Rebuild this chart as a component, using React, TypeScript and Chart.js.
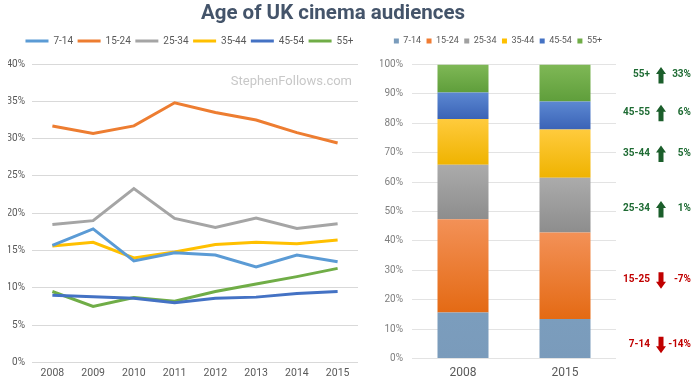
import React, { useEffect, useRef } from 'react';
import { Chart, registerables } from 'chart.js';
Chart.register(...registerables);

// ---------- data ----------
const years = ['2008', '2009', '2010', '2011', '2012', '2013', '2014', '2015'];
const seriesNames = ['7-14', '15-24', '25-34', '35-44', '45-54', '55+'];
const s7to14 = [15.7, 17.9, 13.6, 14.7, 14.4, 12.8, 14.4, 13.5];
const s15to24 = [31.7, 30.7, 31.7, 34.8, 33.5, 32.5, 30.8, 29.4];
const s25to34 = [18.5, 19.0, 23.3, 19.3, 18.1, 19.35, 17.95, 18.6];
const s35to44 = [15.6, 16.1, 14.0, 14.8, 15.8, 16.1, 15.9, 16.4];
const s45to54 = [9.0, 8.8, 8.6, 8.0, 8.6, 8.75, 9.25, 9.5];
const s55plus = [9.5, 7.5, 8.7, 8.2, 9.5, 10.5, 11.5, 12.6];
const allSeries = [s7to14, s15to24, s25to34, s35to44, s45to54, s55plus];

const barYears = ['2008', '2015'];

const annLabels = ['55+', '45-55', '35-44', '25-34', '15-25', '7-14'];
const annChanges = ['33%', '6%', '5%', '1%', '-7%', '-14%'];
const annUp = [true, true, true, true, false, false];
const annLevel = [96.6, 83.8, 69.9, 51.0, 26.8, 4.9];

// ---------- styles ----------
const lineColors = ['#5B9BD5', '#ED7D31', '#A5A5A5', '#FFC000', '#4472C4', '#70AD47'];
const barTop = ['#7B9DBD', '#F39157', '#ABABAB', '#FFCB3D', '#5C88D2', '#7FB856'];
const barBottom = ['#7A9BBB', '#E46A14', '#8D8D8D', '#EFB300', '#3A63B6', '#5F9E3B'];
const barLegend = ['#7A9CBC', '#F07C33', '#A0A0A0', '#FFC000', '#4472C4', '#70AD47'];
const FONT = 'Roboto';

const watermarkPlugin = {
  id: 'watermark',
  afterDatasetsDraw(chart: any) {
    const ctx = chart.ctx;
    ctx.save();
    ctx.font = `13px ${FONT}`;
    ctx.fillStyle = '#C8C8C8';
    ctx.textAlign = 'right';
    ctx.textBaseline = 'middle';
    ctx.fillText('StephenFollows.com', chart.chartArea.right - 6, 82);
    ctx.restore();
  },
};

const annotationPlugin = {
  id: 'changeNotes',
  afterDraw(chart: any) {
    const ctx = chart.ctx;
    const ys = chart.scales.y;
    const right = chart.chartArea.right;
    ctx.save();
    ctx.font = `bold 10px ${FONT}`;
    ctx.textBaseline = 'middle';
    annLabels.forEach((lab, i) => {
      const y = ys.getPixelForValue(annLevel[i]);
      const col = annUp[i] ? '#1E6B33' : '#C00000';
      const arrowCol = annUp[i] ? '#1B5E2B' : '#C00000';
      ctx.fillStyle = col;
      ctx.textAlign = 'right';
      ctx.fillText(lab, right + 34, y);
      ctx.fillText(annChanges[i], right + 75, y);
      const cx = right + 45;
      const top = y - 7.5;
      const bot = y + 9;
      ctx.fillStyle = arrowCol;
      ctx.beginPath();
      if (annUp[i]) {
        ctx.moveTo(cx, top);
        ctx.lineTo(cx + 5, top + 7);
        ctx.lineTo(cx + 2.5, top + 7);
        ctx.lineTo(cx + 2.5, bot);
        ctx.lineTo(cx - 2.5, bot);
        ctx.lineTo(cx - 2.5, top + 7);
        ctx.lineTo(cx - 5, top + 7);
      } else {
        ctx.moveTo(cx, bot);
        ctx.lineTo(cx + 5, bot - 7);
        ctx.lineTo(cx + 2.5, bot - 7);
        ctx.lineTo(cx + 2.5, top);
        ctx.lineTo(cx - 2.5, top);
        ctx.lineTo(cx - 2.5, bot - 7);
        ctx.lineTo(cx - 5, bot - 7);
      }
      ctx.closePath();
      ctx.fill();
    });
    ctx.restore();
  },
};

function barShare(si: number, yi: number) {
  const idx = yi === 0 ? 0 : years.length - 1;
  const total = allSeries.reduce((a, s) => a + s[idx], 0);
  return (allSeries[si][idx] / total) * 100;
}

export default function App() {
  const lineRef = useRef<HTMLCanvasElement>(null);
  const barRef = useRef<HTMLCanvasElement>(null);

  useEffect(() => {
    const lineChart = new Chart(lineRef.current!, {
      type: 'line',
      data: {
        labels: years,
        datasets: seriesNames.map((n, i) => ({
          label: n,
          data: allSeries[i],
          borderColor: lineColors[i],
          backgroundColor: lineColors[i],
          borderWidth: 3,
          pointRadius: 0,
          tension: 0,
        })),
      },
      options: {
        animation: false,
        responsive: false,
        layout: { padding: { top: 31.5, left: 0, right: 2, bottom: 3 } },
        plugins: {
          tooltip: { enabled: false },
          title: { display: true, text: ' ', padding: 0, font: { size: 8, lineHeight: 1 } },
          legend: {
            position: 'top',
            align: 'end',
            weight: 3000,
            labels: {
              boxWidth: 23,
              boxHeight: 3,
              padding: 4.5,
              color: '#595959',
              font: { family: FONT, size: 10 },
              generateLabels: (chart: any) =>
                chart.data.datasets.map((d: any, i: number) => ({
                  text: d.label,
                  fillStyle: lineColors[i],
                  strokeStyle: lineColors[i],
                  lineWidth: 0,
                  datasetIndex: i,
                  hidden: false,
                  fontColor: '#595959',
                })),
            },
          },
        },
        scales: {
          x: {
            offset: true,
            grid: { display: false, drawTicks: false },
            border: { display: false },
            ticks: { color: '#595959', font: { family: FONT, size: 10.5 }, padding: 5 },
          },
          y: {
            min: 0,
            max: 40,
            afterFit: (s: any) => { s.width = 24; },
            grid: { color: '#D9D9D9', drawTicks: false },
            border: { display: false },
            ticks: {
              stepSize: 5,
              padding: 7,
              color: '#595959',
              font: { family: FONT, size: 10 },
              callback: (v: any) => v + '%',
            },
          },
        },
      },
      plugins: [watermarkPlugin],
    } as any);

    const barChart = new Chart(barRef.current!, {
      type: 'bar',
      data: {
        labels: barYears,
        datasets: seriesNames.map((n, si) => ({
          label: n,
          data: barYears.map((_, yi) => barShare(si, yi)),
          backgroundColor: (c: any) => {
            const chart = c.chart;
            if (!chart.chartArea || c.dataIndex === undefined || c.type !== 'data') return barLegend[si];
            let cum = 0;
            for (let k = 0; k < si; k++) cum += barShare(k, c.dataIndex);
            const ys = chart.scales.y;
            const yTop = ys.getPixelForValue(cum + barShare(si, c.dataIndex));
            const yBot = ys.getPixelForValue(cum);
            const g = chart.ctx.createLinearGradient(0, yTop, 0, yBot);
            g.addColorStop(0, barTop[si]);
            g.addColorStop(1, barBottom[si]);
            return g;
          },
          borderWidth: 0,
          barPercentage: 1,
          categoryPercentage: 0.5,
        })),
      },
      options: {
        animation: false,
        responsive: false,
        layout: { padding: { top: 31, left: 20, right: 84, bottom: 1 } },
        plugins: {
          tooltip: { enabled: false },
          title: { display: true, text: ' ', padding: 0, font: { size: 9, lineHeight: 1 } },
          legend: {
            position: 'top',
            weight: 3000,
            labels: {
              boxWidth: 5,
              boxHeight: 5,
              padding: 5.5,
              color: '#595959',
              font: { family: FONT, size: 9 },
              generateLabels: (chart: any) =>
                chart.data.datasets.map((d: any, i: number) => ({
                  text: d.label,
                  fillStyle: barLegend[i],
                  strokeStyle: barLegend[i],
                  lineWidth: 0,
                  datasetIndex: i,
                  hidden: false,
                  fontColor: '#595959',
                })),
            },
          },
        },
        scales: {
          x: {
            stacked: true,
            grid: { display: false, drawTicks: false },
            border: { display: false },
            ticks: { color: '#595959', font: { family: FONT, size: 12 }, padding: 7 },
          },
          y: {
            stacked: true,
            min: 0,
            max: 100,
            afterFit: (s: any) => { s.width = 32; },
            grid: { color: '#E3E3E3', drawTicks: false },
            border: { display: false },
            ticks: {
              stepSize: 10,
              padding: 9,
              color: '#7F7F7F',
              font: { family: FONT, size: 10 },
              callback: (v: any) => v + '%',
            },
          },
        },
      },
      plugins: [annotationPlugin],
    } as any);

    return () => {
      lineChart.destroy();
      barChart.destroy();
    };
  }, []);

  return (
    <div style={{ position: 'absolute', left: 0, top: 0, width: 700, height: 388, background: '#fff', overflow: 'hidden' }}>
      <canvas ref={lineRef} width={352} height={388} style={{ position: 'absolute', left: 8, top: 0 }} />
      <canvas ref={barRef} width={340} height={388} style={{ position: 'absolute', left: 360, top: 0 }} />
      <div
        style={{
          position: 'absolute',
          left: 0,
          top: 0,
          width: 666,
          textAlign: 'center',
          fontFamily: FONT,
          fontWeight: 700,
          fontSize: 20.5,
          lineHeight: '24px',
          color: '#44546A',
        }}
      >
        Age of UK cinema audiences
      </div>
    </div>
  );
}
